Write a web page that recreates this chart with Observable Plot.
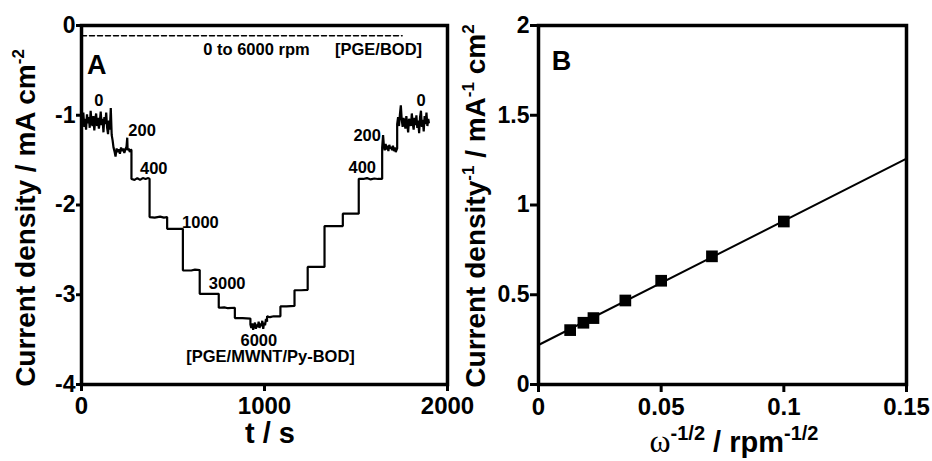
<!DOCTYPE html>
<html><head><meta charset="utf-8">
<script src="https://cdn.jsdelivr.net/npm/d3@7"></script>
<script src="https://cdn.jsdelivr.net/npm/@observablehq/plot@0.6"></script>
<style>
body{margin:0;background:#fff;}
#wrap{position:relative;width:932px;height:461px;background:#fff;}
#wrap svg{position:absolute;top:0;overflow:visible;}
</style></head><body><div id="wrap"></div>
<script>
// ---------- Panel A data ----------
const traceT = [
  0,5,10,15,20,25,30,35,40,45,50,55,60,65,70,75,80,85,90,95,100,105,110,115,120,125,130,135,140,145,150,155,160,165,170,
  175,180,186,192,198,204,210,216,222,228,234,240,246,250,252,258,264,270,273,
  273,290,305,320,335,350,365,372,
  372,400,430,450,468,
  468,554,
  554,600,620,646,
  646,700,750,
  750,780,800,838,
  838,880,923,
  923,928,933,938,943,948,953,958,963,968,973,978,983,988,993,998,1003,1008,1014,
  1014,1030,1050,1087,
  1087,1120,1164,
  1164,1200,1236,
  1236,1280,1328,
  1328,1380,1428,
  1428,1470,1515,
  1515,1540,1560,1580,1600,1620,1643,
  1643,1648,1652,1657,1662,1667,1672,1677,1682,1687,1692,1697,1702,1707,1712,1717,1725,
  1725,1730,1735,1740,1745,1750,1755,1760,1765,1770,1775,1780,1785,1790,1795,1800,1805,1810,1815,1820,1825,1830,1835,1840,1845,1850,1855,1860,1865,1870,1875,1880,1885,1890,1895,1898
];
const traceJ = [
  -1.03,-1.11,-0.97,-1.13,-1.04,-1.16,-0.99,-1.09,-1.02,-1.14,-0.95,-1.08,-1.12,-1.01,-1.17,-1.05,-0.98,-1.12,-1.03,-1.15,-1.07,-0.96,-1.11,-1.04,-1.19,-1.02,-1.10,-0.97,-1.14,-1.21,-1.06,-1.16,-0.92,-1.22,-1.28,
  -1.36,-1.40,-1.46,-1.37,-1.41,-1.38,-1.43,-1.36,-1.40,-1.37,-1.42,-1.38,-1.35,-1.25,-1.39,-1.37,-1.41,-1.38,-1.39,
  -1.71,-1.72,-1.70,-1.72,-1.70,-1.71,-1.70,-1.71,
  -2.135,-2.14,-2.13,-2.14,-2.135,
  -2.265,-2.265,
  -2.728,-2.73,-2.72,-2.725,
  -2.99,-2.99,-2.99,
  -3.145,-3.14,-3.15,-3.145,
  -3.26,-3.26,-3.265,
  -3.33,-3.37,-3.32,-3.39,-3.34,-3.31,-3.38,-3.33,-3.36,-3.30,-3.37,-3.32,-3.35,-3.29,-3.38,-3.31,-3.34,-3.27,-3.30,
  -3.24,-3.25,-3.24,-3.24,
  -3.13,-3.13,-3.125,
  -2.95,-2.95,-2.945,
  -2.69,-2.69,-2.69,
  -2.235,-2.235,-2.235,
  -2.097,-2.095,-2.097,
  -1.708,-1.71,-1.70,-1.715,-1.705,-1.71,-1.708,
  -1.36,-1.22,-1.33,-1.39,-1.32,-1.38,-1.34,-1.40,-1.33,-1.37,-1.35,-1.39,-1.34,-1.40,-1.36,-1.41,-1.37,
  -1.10,-1.02,-1.12,-0.99,-0.89,-1.05,-1.13,-1.03,-1.08,-1.15,-1.01,-1.10,-1.19,-1.04,-1.07,-1.12,-0.98,-1.09,-1.16,-1.03,-1.11,-1.00,-1.14,-1.06,-1.20,-1.02,-0.95,-1.13,-1.05,-1.18,-1.01,-1.10,-0.97,-1.12,-1.04,-1.08
];
const bodT = [0, 1752];
const bodJ = [-0.115, -0.115];
const annoText = ["0","200","400","1000","3000","6000","[PGE/MWNT/Py-BOD]","400","200","0","0 to 6000 rpm","[PGE/BOD]"];
const annoT = [95, 331, 395, 650, 796, 969, 1033, 1534, 1561, 1856, 956, 1623];
const annoJ = [-0.835, -1.17, -1.6, -2.2, -2.877, -3.51, -3.69, -1.58, -1.225, -0.835, -0.27, -0.27];
const ticksA_x = [0, 1000, 2000];
const ticksA_y = [0, -1, -2, -3, -4];

// ---------- Panel B data ----------
const invSqrtOmega = [0.0129, 0.0183, 0.0224, 0.0354, 0.05, 0.0707, 0.1];
const invJ = [0.303, 0.344, 0.37, 0.468, 0.578, 0.714, 0.908];
const fitX = [0, 0.15];
const fitY = [0.22, 1.258];
const ticksB_x = [0, 0.05, 0.1, 0.15];
const ticksB_y = [0, 0.5, 1, 1.5, 2];

const font = "'Liberation Sans', Arial, Helvetica, sans-serif";
const trace = traceT.map((t, i) => ({t, j: traceJ[i]}));
const bod = bodT.map((t, i) => ({t, j: bodJ[i]}));
const anno = annoText.map((s, i) => ({s, t: annoT[i], j: annoJ[i]}));
const pts = invSqrtOmega.map((x, i) => ({x, y: invJ[i]}));
const fit = fitX.map((x, i) => ({x, y: fitY[i]}));

const A = Plot.plot({
  width: 466, height: 461,
  marginLeft: 81, marginRight: 19, marginTop: 25, marginBottom: 77,
  style: {fontFamily: font, fontWeight: "bold", background: "transparent", overflow: "visible", color: "black"},
  x: {domain: [0, 2000]},
  y: {domain: [-4, 0]},
  marks: [
    Plot.axisX({ticks: ticksA_x, tickSize: 7, tickPadding: 5, fontSize: 24, strokeWidth: 3, label: null, tickFormat: d => String(d)}),
    Plot.axisY({ticks: ticksA_y, tickSize: 5, tickPadding: 1, fontSize: 23, strokeWidth: 3, label: null, tickFormat: d => String(d)}),
    Plot.line(bod, {x: "t", y: "j", stroke: "black", strokeWidth: 1.5, strokeDasharray: "5,3"}),
    Plot.line(trace, {x: "t", y: "j", stroke: "black", strokeWidth: 2.2, strokeLinejoin: "miter"}),
    Plot.text(anno, {x: "t", y: "j", text: "s", fontSize: 16.5, fontWeight: "bold", fill: "black"}),
    Plot.text(["A"], {x: 83, y: -0.445, text: d => d, fontSize: 27, fontWeight: "bold", fill: "black"}),
    Plot.frame({stroke: "black", strokeWidth: 3.5})
  ]
});

const B = Plot.plot({
  width: 466, height: 461,
  marginLeft: 72, marginRight: 26, marginTop: 25, marginBottom: 77,
  style: {fontFamily: font, fontWeight: "bold", background: "transparent", overflow: "visible", color: "black"},
  x: {domain: [0, 0.15]},
  y: {domain: [0, 2]},
  marks: [
    Plot.axisX({ticks: ticksB_x, tickSize: 8, tickPadding: 5, fontSize: 24, strokeWidth: 3, label: null, tickFormat: d => String(d)}),
    Plot.axisY({ticks: ticksB_y, tickSize: 8, tickPadding: 1, fontSize: 23, strokeWidth: 3, label: null, tickFormat: d => String(d)}),
    Plot.line(fit, {x: "x", y: "y", stroke: "black", strokeWidth: 2}),
    Plot.dot(pts, {x: "x", y: "y", symbol: "square", r: 6.6, fill: "black", stroke: null}),
    Plot.text(["B"], {x: 0.0094, y: 1.80, text: d => d, fontSize: 27, fontWeight: "bold", fill: "black"}),
    Plot.frame({stroke: "black", strokeWidth: 3.5})
  ]
});

const wrap = document.getElementById("wrap");
A.style.left = "0px";
B.style.left = "466px";
wrap.appendChild(A);
wrap.appendChild(B);

// Axis titles with superscripts
const sA = d3.select(A);
sA.append("text").attr("x", 270).attr("y", 443).attr("text-anchor", "middle")
  .style("font-size", "29px").style("font-weight", "bold").attr("fill", "black").text("t / s");
const yA = sA.append("text").attr("transform", "translate(35,218) rotate(-90)").attr("text-anchor", "middle")
  .style("font-size", "28px").style("font-weight", "bold").attr("fill", "black");
yA.append("tspan").text("Current density / mA cm");
yA.append("tspan").attr("dy", -11).style("font-size", "17px").text("-2");

const sB = d3.select(B);
const xB = sB.append("text").attr("x", 268).attr("y", 452).attr("text-anchor", "middle")
  .style("font-size", "29px").style("font-weight", "bold").attr("fill", "black");
xB.append("tspan").style("font-family", "'Liberation Serif', 'Times New Roman', serif").style("font-weight", "normal").style("font-size", "32px").text("ω");
xB.append("tspan").attr("dy", -12).style("font-size", "20px").text("-1/2");
xB.append("tspan").attr("dy", 12).text(" / rpm");
xB.append("tspan").attr("dy", -12).style("font-size", "20px").text("-1/2");

const yB = sB.append("text").attr("transform", "translate(19,206) rotate(-90)").attr("text-anchor", "middle")
  .style("font-size", "28px").style("font-weight", "bold").attr("fill", "black");
yB.append("tspan").text("Current density");
yB.append("tspan").attr("dy", -11).style("font-size", "17px").text("-1");
yB.append("tspan").attr("dy", 11).text(" / mA");
yB.append("tspan").attr("dy", -11).style("font-size", "17px").text("-1");
yB.append("tspan").attr("dy", 11).text(" cm");
yB.append("tspan").attr("dy", -11).style("font-size", "17px").text("2");
</script></body></html>
